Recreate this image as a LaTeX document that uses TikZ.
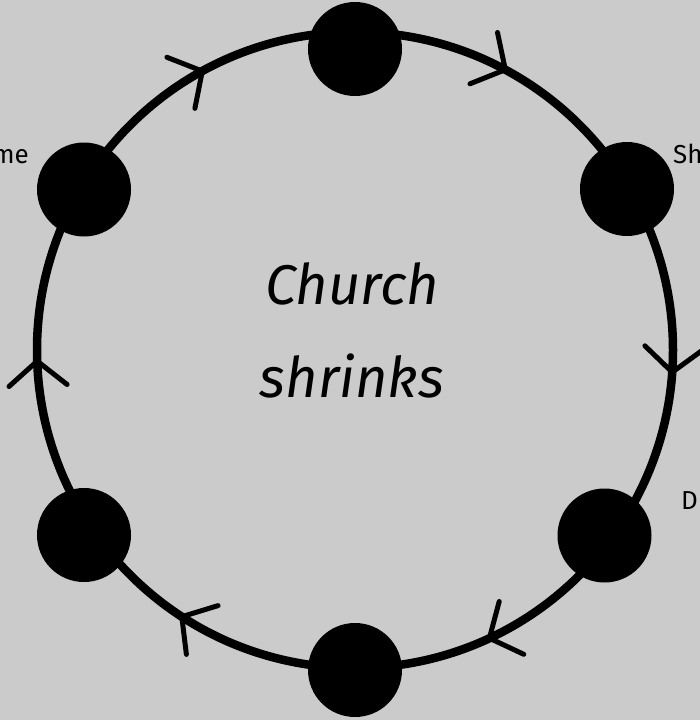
\documentclass[tikz,border=0pt]{standalone}
\usepackage{fontspec}
\setmainfont{Fira Sans}
\definecolor{concrete}{RGB}{203,203,203}
\begin{document}
\begin{tikzpicture}[x=1pt, y=-1pt,
  dot/.style={fill=black},
  chevron/.style={line width=5pt, line cap=round, line join=round},
  side/.style={inner sep=0pt, font=\fontsize{26}{30}\selectfont},
  title/.style={inner sep=0pt, font=\fontsize{56}{60}\selectfont\itshape}]
  % Coordinates
  \coordinate (O) at (355, 350);
  \coordinate (A) at (355, 49);
  \coordinate (B) at (627, 189);
  \coordinate (C) at (604.5, 535.5);
  \coordinate (D) at (355, 670);
  \coordinate (E) at (84, 535);
  \coordinate (F) at (84, 189.5);
  \coordinate (G) at (505.3, 69.7);
  \coordinate (H) at (497.5, 32.5);
  \coordinate (I) at (470.0, 83.8);
  \coordinate (J) at (672.2, 372.2);
  \coordinate (K) at (702.9, 349.9);
  \coordinate (L) at (644.9, 345.8);
  \coordinate (M) at (489.4, 638.2);
  \coordinate (N) at (523.8, 654.3);
  \coordinate (P) at (499.2, 601.5);
  \coordinate (Q) at (181.8, 616.7);
  \coordinate (R) at (186.4, 654.4);
  \coordinate (S) at (218.1, 605.6);
  \coordinate (T) at (37.2, 361.1);
  \coordinate (U) at (9.0, 386.5);
  \coordinate (V) at (67.1, 384.5);
  \coordinate (W) at (202.3, 71.1);
  \coordinate (X) at (166.9, 57.3);
  \coordinate (Y) at (194.9, 108.4);

  % Drawing
  \fill[concrete] (0,0) rectangle (700,720);
  \useasboundingbox (0,0) rectangle (700,720);
  \draw[line width=8.5pt] (O) circle (318pt);
  \draw[chevron] (H) -- (G) -- (I);
  \draw[chevron] (K) -- (J) -- (L);
  \draw[chevron] (N) -- (M) -- (P);
  \draw[chevron] (R) -- (Q) -- (S);
  \draw[chevron] (U) -- (T) -- (V);
  \draw[chevron] (X) -- (W) -- (Y);
  \fill[dot] (A) circle (47pt);
  \fill[dot] (B) circle (47pt);
  \fill[dot] (C) circle (47pt);
  \fill[dot] (D) circle (47pt);
  \fill[dot] (E) circle (47pt);
  \fill[dot] (F) circle (47pt);
  \node[title, anchor=base] (church) at (352, 304) {Church};
  \node[title, anchor=base] (shrinks) at (352, 397) {shrinks};
  \node[side, anchor=base east] (home) at (29, 163) {me};
  \node[side, anchor=base west] (share) at (673, 163) {Sh};
  \node[side, anchor=base west] (down) at (681, 509) {D};
\end{tikzpicture}
\end{document}
